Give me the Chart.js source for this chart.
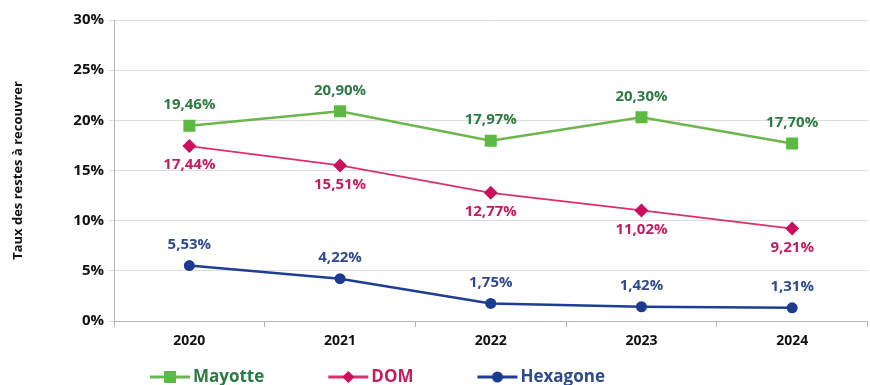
<!DOCTYPE html>
<html>
<head>
<meta charset="utf-8">
<script src="https://cdn.jsdelivr.net/npm/chart.js@4/dist/chart.umd.min.js"></script>
<style>
  html, body { margin: 0; padding: 0; background: #fff; overflow: hidden; }
  .chart-wrap { width: 876px; height: 385px; }
</style>
</head>
<body>
<div class="chart-wrap"><canvas id="restes"></canvas></div>
<script>
const years = ['2020', '2021', '2022', '2023', '2024'];
const mayotte = [19.46, 20.90, 17.97, 20.30, 17.70];
const dom = [17.44, 15.51, 12.77, 11.02, 9.21];
const hexagone = [5.53, 4.22, 1.75, 1.42, 1.31];

const FONT = '"Open Sans", "DejaVu Sans", sans-serif';

const series = [
  { label: 'Mayotte', data: mayotte, line: '#6cb64c', mark: '#5cb942', text: '#2d7a45', style: 'rect', r: 8.5, width: 2.5, above: true },
  { label: 'DOM', data: dom, line: '#d9306e', mark: '#cc0f5d', text: '#c41c60', style: 'rectRot', r: 7, width: 1.8, above: false },
  { label: 'Hexagone', data: hexagone, line: '#1f3d95', mark: '#1d3b8e', text: '#2f4a8c', style: 'circle', r: 5.5, width: 2.5, above: true },
];

const fmt = (v) => v.toFixed(2).replace('.', ',') + '%';

// value labels above/below each point
const valueLabels = {
  id: 'valueLabels',
  afterDatasetsDraw(chart) {
    const { ctx } = chart;
    ctx.save();
    ctx.font = 'bold 15px ' + FONT;
    ctx.textAlign = 'center';
    ctx.textBaseline = 'middle';
    series.forEach((s, i) => {
      const meta = chart.getDatasetMeta(i);
      meta.data.forEach((pt, j) => {
        ctx.fillStyle = s.text;
        const dy = s.above ? -21 : 19;
        ctx.fillText(fmt(s.data[j]), pt.x, pt.y + dy);
      });
    });
    ctx.restore();
  },
};

// legend row under the axis: line with marker, then the name
const lineLegend = {
  id: 'lineLegend',
  afterDraw(chart) {
    const { ctx } = chart;
    const y = 377;
    let x = 150;
    ctx.save();
    ctx.font = 'bold 17px ' + FONT;
    ctx.textBaseline = 'middle';
    series.forEach((s) => {
      ctx.strokeStyle = s.line;
      ctx.lineWidth = 3;
      ctx.beginPath();
      ctx.moveTo(x, y);
      ctx.lineTo(x + 40, y);
      ctx.stroke();
      ctx.fillStyle = s.mark;
      const cx = x + 20;
      if (s.style === 'rect') {
        ctx.fillRect(cx - 6, y - 6, 12, 12);
      } else if (s.style === 'rectRot') {
        ctx.beginPath();
        ctx.moveTo(cx, y - 6); ctx.lineTo(cx + 6, y); ctx.lineTo(cx, y + 6); ctx.lineTo(cx - 6, y);
        ctx.closePath();
        ctx.fill();
      } else {
        ctx.beginPath();
        ctx.arc(cx, y, 5.5, 0, Math.PI * 2);
        ctx.fill();
      }
      ctx.fillStyle = s.text;
      ctx.fillText(s.label, x + 43, y);
      x += 43 + ctx.measureText(s.label).width + 64;
    });
    ctx.restore();
  },
};

new Chart(document.getElementById('restes'), {
  type: 'line',
  data: {
    labels: years,
    datasets: series.map((s) => ({
      label: s.label,
      data: s.data,
      borderColor: s.line,
      borderWidth: s.width,
      backgroundColor: s.mark,
      pointBackgroundColor: s.mark,
      pointBorderColor: s.mark,
      pointStyle: s.style,
      pointRadius: s.r,
      pointBorderWidth: 0,
      tension: 0,
    })),
  },
  options: {
    responsive: true,
    maintainAspectRatio: false,
    animation: false,
    layout: { padding: { top: 20, right: 0, bottom: 33, left: 0 } },
    plugins: {
      tooltip: { enabled: false },
      legend: { display: false },
    },
    scales: {
      x: {
        offset: true,
        grid: { display: true, drawOnChartArea: false, offset: true, tickLength: 6, color: '#b5b5b5' },
        border: { color: '#b5b5b5' },
        ticks: { color: '#111', padding: 6, font: { family: FONT, size: 14, weight: 'bold' } },
        afterFit: (scale) => { scale.height = 31; },
      },
      y: {
        min: 0,
        max: 30,
        ticks: {
          stepSize: 5,
          color: '#111',
          padding: 5,
          font: { family: FONT, size: 15, weight: 'bold' },
          callback: (v) => v + '%',
        },
        grid: { color: '#dcdcdc', tickLength: 5 },
        border: { color: '#b5b5b5' },
        title: {
          display: true,
          text: 'Taux des restes à recouvrer',
          color: '#111',
          font: { family: FONT, size: 13, weight: 'bold' },
          padding: { top: 10, bottom: 0 },
        },
        afterFit: (scale) => { scale.width = 114; },
      },
    },
  },
  plugins: [valueLabels, lineLegend],
});
</script>
</body>
</html>
